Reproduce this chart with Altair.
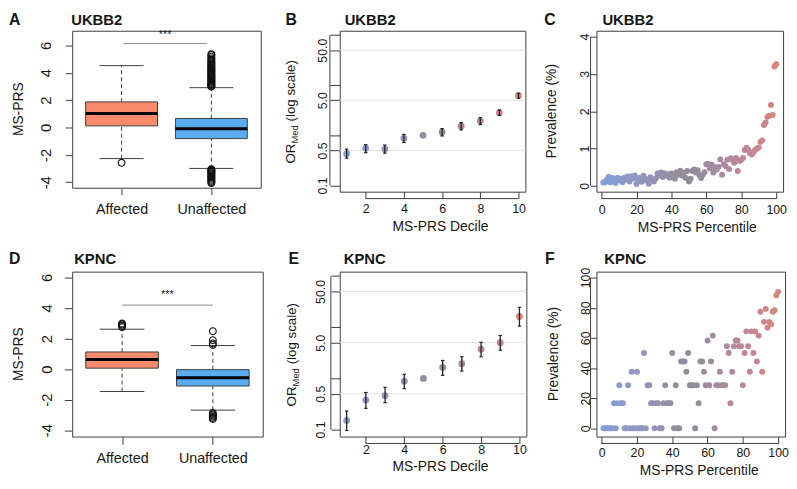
import altair as alt
import pandas as pd

FONT = "Liberation Sans"
INK = "#161616"
FRAME = "#3d3d3d"
GRID = "#e2e2e2"
GRAD = ["#7FA0DA", "#918D97", "#D4877A"]

# ---------------- A / D : box plots ----------------
box_pos = [1, 2]
box_names = ["Affected", "Unaffected"]
box_colors = ["#F88B6C", "#58ACEF"]

ukbb_q1 = [0.12, -0.81]
ukbb_median = [1.02, -0.09]
ukbb_q3 = [1.87, 0.66]
ukbb_whisker_lo = [-2.27, -2.99]
ukbb_whisker_hi = [4.52, 2.91]
ukbb_out_affected = [-2.58]
ukbb_out_unaffected = [2.98, 3.02, 3.08, 3.14, 3.2, 3.27, 3.33, 3.4, 3.46, 3.53, 3.6,
                       3.66, 3.73, 3.8, 3.86, 3.93, 4.0, 4.07, 4.14, 4.2, 4.28, 4.35,
                       4.42, 4.5, 4.58, 4.66, 4.75, 4.85, 4.95, 5.05, 5.17, 5.3, 5.36,
                       -3.04, -3.1, -3.16, -3.22, -3.28, -3.35, -3.42, -3.5, -3.57,
                       -3.65, -3.73, -3.82, -3.9, -3.98, -4.06]

kpnc_q1 = [0.06, -1.11]
kpnc_median = [0.63, -0.57]
kpnc_q3 = [1.12, -0.04]
kpnc_whisker_lo = [-1.47, -2.69]
kpnc_whisker_hi = [2.61, 1.54]
kpnc_out_affected = [2.75, 2.84, 2.92, 2.98]
kpnc_out_unaffected = [1.58, 1.68, 1.89, 2.48, -2.88, -2.96, -3.04, -3.12, -3.2, -3.27]

# ---------------- B / E : OR by decile ----------------
deciles = [1, 2, 3, 4, 5, 6, 7, 8, 9, 10]
ukbb_or = [0.43, 0.55, 0.53, 0.87, 1.0, 1.15, 1.52, 1.93, 2.82, 6.2]
ukbb_or_lo = [0.35, 0.45, 0.44, 0.72, 1.0, 0.97, 1.28, 1.64, 2.5, 5.5]
ukbb_or_hi = [0.53, 0.65, 0.64, 1.04, 1.0, 1.36, 1.79, 2.26, 3.2, 6.9]
kpnc_or = [0.15, 0.377, 0.46, 0.88, 1.0, 1.64, 1.93, 3.72, 5.0, 16.2]
kpnc_or_lo = [0.096, 0.26, 0.335, 0.63, 1.0, 1.15, 1.39, 2.64, 3.55, 10.5]
kpnc_or_hi = [0.23, 0.53, 0.67, 1.2, 1.0, 2.24, 2.64, 5.07, 6.9, 24.5]
or_ticks = [0.1, 0.5, 1, 5, 10, 50, 100]
or_grid = [0.5, 5, 50]

# ---------------- C / F : prevalence by percentile ----------------
percentiles = list(range(1, 101))
ukbb_prev = [0.09, 0.10, 0.16, 0.24, 0.10, 0.21, 0.13, 0.08, 0.22, 0.15,
             0.19, 0.10, 0.22, 0.17, 0.25, 0.12, 0.26, 0.20, 0.28, 0.05,
             0.14, 0.22, 0.11, 0.27, 0.19, 0.14, 0.06, 0.23, 0.16, 0.12,
             0.20, 0.33, 0.28, 0.36, 0.24, 0.34, 0.27, 0.31, 0.22, 0.33,
             0.26, 0.19, 0.37, 0.30, 0.41, 0.28, 0.35, 0.22, 0.40, 0.12,
             0.19, 0.40, 0.44, 0.36, 0.42, 0.29, 0.21, 0.30, 0.37, 0.58,
             0.59, 0.47, 0.57, 0.36, 0.50, 0.44, 0.51, 0.71, 0.30, 0.58,
             0.53, 0.70, 0.45, 0.74, 0.70, 0.62, 0.75, 0.40, 0.67, 0.70,
             0.75, 0.96, 1.02, 0.97, 0.88, 0.84, 0.90, 0.97, 1.00, 1.03,
             1.18, 1.22, 1.63, 1.70, 1.85, 1.88, 2.17, 1.90, 3.20, 3.26]
kpnc_prev = [0, 0, 0, 0, 0, 0, 16.7, 0, 16.7, 28.6,
             16.7, 16.7, 0, 0, 28.6, 0, 37.5, 0, 0, 37.5,
             0, 0, 0, 50, 0, 28.6, 28.6, 16.7, 16.7, 0,
             16.7, 16.7, 0, 0, 16.7, 28.6, 16.7, 16.7, 16.7, 50,
             0, 28.6, 0, 0, 44.4, 44.4, 44.4, 37.5, 50, 28.6,
             28.6, 28.6, 0, 28.6, 16.7, 44.4, 44.4, 37.5, 28.6, 58.3,
             28.6, 44.4, 61.5, 0, 28.6, 28.6, 37.5, 28.6, 28.6, 28.6,
             54.5, 50, 16.7, 37.5, 54.5, 58.3, 58.3, 54.5, 54.5, 28.6,
             50, 64.3, 54.5, 37.5, 64.3, 50, 64.3, 44.4, 61.5, 77.3,
             37.5, 70.6, 79.2, 66.7, 70.6, 69.0, 77.3, 78.3, 88.2, 90.5]


def txt(text, x, y, size, weight="normal", angle=0, align="left", baseline="alphabetic"):
    return alt.Chart(pd.DataFrame({"t": [text]})).mark_text(
        align=align, baseline=baseline, angle=angle, font=FONT,
        fontSize=size, fontWeight=weight, color=INK,
    ).encode(x=alt.value(x), y=alt.value(y), text="t:N")


def header(letter, letter_dx, title, title_dx, dy):
    return [txt(letter, letter_dx, dy, 16, "bold"), txt(title, title_dx, dy, 15, "bold")]


def box_panel(q1, med, q3, wlo, whi, out_aff, out_unaff, sig, star_y, ydom, w, h,
              tick, xpad, ypad, letter, title, title_dx, dy, ytitle_dx):
    xs = alt.Scale(domain=[0.45, 2.55], nice=False, zero=False)
    ys = alt.Scale(domain=ydom, nice=False, zero=False)
    xax = alt.Axis(values=box_pos, labelExpr="datum.value == 1 ? 'Affected' : 'Unaffected'",
                   tickSize=tick, labelPadding=xpad, labelFontSize=14.5, title=None)
    yax = alt.Axis(values=[-4, -2, 0, 2, 4, 6], labelExpr="'' + datum.value",
                   labelAngle=270, labelAlign="center", labelBaseline="alphabetic",
                   tickSize=tick, labelPadding=ypad, labelFontSize=15, title=None)

    def X(f):
        return alt.X(f, scale=xs, axis=xax)

    def Y(f):
        return alt.Y(f, scale=ys, axis=yax)

    df = pd.DataFrame({
        "g": box_pos,
        "x1": [p - 0.4 for p in box_pos], "x2": [p + 0.4 for p in box_pos],
        "c1": [p - 0.245 for p in box_pos], "c2": [p + 0.245 for p in box_pos],
        "q1": q1, "med": med, "q3": q3, "lo": wlo, "hi": whi, "fill": box_colors,
    })
    base = alt.Chart(df)
    w_hi = base.mark_rule(color=FRAME, strokeDash=[4, 3]).encode(
        x=X("g:Q"), y=Y("q3:Q"), y2="hi:Q")
    w_lo = base.mark_rule(color=FRAME, strokeDash=[4, 3]).encode(
        x=X("g:Q"), y=Y("lo:Q"), y2="q1:Q")
    cap_hi = base.mark_rule(color=FRAME).encode(x=X("c1:Q"), x2="c2:Q", y=Y("hi:Q"))
    cap_lo = base.mark_rule(color=FRAME).encode(x=X("c1:Q"), x2="c2:Q", y=Y("lo:Q"))
    rect = base.mark_rect(stroke=FRAME, strokeWidth=1).encode(
        x=X("x1:Q"), x2="x2:Q", y=Y("q1:Q"), y2="q3:Q",
        fill=alt.Fill("fill:N", scale=None))
    med_rule = base.mark_rule(color="#000000", strokeWidth=3).encode(
        x=X("x1:Q"), x2="x2:Q", y=Y("med:Q"))
    dfo = pd.DataFrame({
        "x": [1 for _ in out_aff] + [2 for _ in out_unaff],
        "y": list(out_aff) + list(out_unaff),
    })
    pts = alt.Chart(dfo).mark_point(shape="circle", filled=False, color="#111111",
                                    size=48, strokeWidth=1.1, opacity=1).encode(
        x=X("x:Q"), y=Y("y:Q"))
    sdf = pd.DataFrame({"a": [sig[0]], "b": [sig[1]], "y": [sig[2]],
                        "sx": [(sig[0] + sig[1]) / 2], "sy": [star_y]})
    sig_rule = alt.Chart(sdf).mark_rule(color="#8c8c8c").encode(
        x=X("a:Q"), x2="b:Q", y=Y("y:Q"))
    star = alt.Chart(sdf).mark_text(text="***", fontSize=11, font=FONT, color=INK,
                                    align="center", baseline="middle").encode(
        x=X("sx:Q"), y=Y("sy:Q"))
    layers = [w_hi, w_lo, cap_hi, cap_lo, rect, med_rule, pts, sig_rule, star]
    layers += header(letter, -64, title, title_dx, dy)
    layers.append(txt("MS-PRS", ytitle_dx, h / 2, 14, angle=270, align="center"))
    return alt.layer(*layers).properties(width=w, height=h)


def or_panel(vals, lo, hi, ydom, w, h, ytick, ypad, xtick, xpad, letter, letter_dx,
             title, title_dx, dy, ytitle_dx, xtitle_x, xtitle_dy):
    xs = alt.Scale(domain=[0.64, 10.36], nice=False, zero=False)
    ys = alt.Scale(type="log", domain=ydom, nice=False)
    xax = alt.Axis(values=[2, 4, 6, 8, 10], tickSize=xtick, labelPadding=xpad,
                   labelFontSize=12.5, title=None)
    yax = alt.Axis(values=or_ticks,
                   labelExpr="datum.value == 0.1 ? '0.1' : datum.value == 0.5 ? '0.5' : "
                             "datum.value == 5 ? '5.0' : datum.value == 50 ? '50.0' : ''",
                   labelAngle=270, labelAlign="center", labelBaseline="alphabetic",
                   tickSize=ytick, labelPadding=ypad, labelFontSize=12.5, title=None)

    def X(f):
        return alt.X(f, scale=xs, axis=xax)

    def Y(f):
        return alt.Y(f, scale=ys, axis=yax)

    df = pd.DataFrame({"d": deciles, "v": vals, "lo": lo, "hi": hi,
                       "c1": [d - 0.09 for d in deciles], "c2": [d + 0.09 for d in deciles]})
    base = alt.Chart(df)
    pts = base.mark_circle(size=48, opacity=1).encode(
        x=X("d:Q"), y=Y("v:Q"),
        color=alt.Color("d:Q", scale=alt.Scale(domain=[1, 5.5, 10], range=GRAD), legend=None))
    grid = alt.Chart(pd.DataFrame({"g": or_grid})).mark_rule(color=GRID).encode(
        y=Y("g:Q"))
    axl = alt.Chart(pd.DataFrame({"a": [or_ticks[0]], "b": [or_ticks[-1]]})).mark_rule(
        color=FRAME).encode(x=alt.value(-ytick), y=Y("a:Q"), y2="b:Q")
    axb = alt.Chart(pd.DataFrame({"a": [2], "b": [10]})).mark_rule(color=FRAME).encode(
        y=alt.value(h + xtick), x=X("a:Q"), x2="b:Q")
    bars = base.mark_rule(color="#222222", strokeWidth=1.3).encode(
        x=X("d:Q"), y=Y("lo:Q"), y2="hi:Q")
    cap_lo = base.transform_filter("datum.lo != datum.hi").mark_rule(
        color="#222222", strokeWidth=1.2).encode(x=X("c1:Q"), x2="c2:Q", y=Y("lo:Q"))
    cap_hi = base.transform_filter("datum.lo != datum.hi").mark_rule(
        color="#222222", strokeWidth=1.2).encode(x=X("c1:Q"), x2="c2:Q", y=Y("hi:Q"))
    layers = [grid, axl, axb, pts, bars, cap_lo, cap_hi]
    layers += header(letter, letter_dx, title, title_dx, dy)
    y0 = h / 2 + 53
    layers.append(txt("OR", ytitle_dx, y0, 13.5, angle=270))
    layers.append(txt("Med", ytitle_dx + 3, y0 - 20.3, 9.5, angle=270))
    layers.append(txt("(log scale)", ytitle_dx, y0 - 20.3 - 18.5 - 3.8, 13.5, angle=270))
    layers.append(txt("MS-PRS Decile", xtitle_x, h + xtitle_dy, 14, align="center"))
    return alt.layer(*layers).properties(width=w, height=h)


def prev_panel(vals, ydom, yvals, w, h, ytick, ypad, xtick, xpad, letter, letter_dx,
               title, title_dx, dy, ytitle_dx, xtitle_x, xtitle_dy):
    xs = alt.Scale(domain=[-2.96, 103.96], nice=False, zero=False)
    ys = alt.Scale(domain=ydom, nice=False, zero=False)
    xvals = [0, 20, 40, 60, 80, 100]
    xax = alt.Axis(values=xvals, tickSize=xtick, labelPadding=xpad,
                   labelFontSize=12.5, title=None)
    yax = alt.Axis(values=yvals, labelAngle=270, labelAlign="center",
                   labelBaseline="alphabetic", tickSize=ytick, labelPadding=ypad,
                   labelFontSize=12.5, title=None)

    def X(f):
        return alt.X(f, scale=xs, axis=xax)

    def Y(f):
        return alt.Y(f, scale=ys, axis=yax)

    df = pd.DataFrame({"p": percentiles, "v": vals})
    pts = alt.Chart(df).mark_circle(size=36, opacity=1).encode(
        x=X("p:Q"), y=Y("v:Q"),
        color=alt.Color("p:Q", scale=alt.Scale(domain=[1, 50.5, 100], range=GRAD), legend=None))
    axl = alt.Chart(pd.DataFrame({"a": [yvals[0]], "b": [yvals[-1]]})).mark_rule(
        color=FRAME).encode(x=alt.value(-ytick), y=Y("a:Q"), y2="b:Q")
    axb = alt.Chart(pd.DataFrame({"a": [xvals[0]], "b": [xvals[-1]]})).mark_rule(
        color=FRAME).encode(y=alt.value(h + xtick), x=X("a:Q"), x2="b:Q")
    layers = [pts, axl, axb]
    layers += header(letter, letter_dx, title, title_dx, dy)
    layers.append(txt("Prevalence (%)", ytitle_dx, h / 2, 14, angle=270, align="center"))
    layers.append(txt("MS-PRS Percentile", xtitle_x, h + xtitle_dy, 14, align="center"))
    return alt.layer(*layers).properties(width=w, height=h)


def spacer(w):
    return alt.Chart(pd.DataFrame({"z": [0]})).mark_point(opacity=0).encode(
        x=alt.value(0), y=alt.value(0)
    ).properties(width=w, height=10, view=alt.ViewBackground(strokeOpacity=0))


pA = box_panel(ukbb_q1, ukbb_median, ukbb_q3, ukbb_whisker_lo, ukbb_whisker_hi,
               ukbb_out_affected, ukbb_out_unaffected, (1.02, 1.95, 6.14), 6.76,
               [-4.4, 7.07], 191, 159, 7, 8, 15, "A", "UKBB2", -1, -6, -50)
pB = or_panel(ukbb_or, ukbb_or_lo, ukbb_or_hi, [0.075, 122], 188, 163,
              10, 3, 7, 4, "B", -55, "UKBB2", 5, -6, -45, 102, 40)
pC = prev_panel(ukbb_prev, [-0.155, 4.157], [0, 1, 2, 3, 4], 189, 163,
                6, 2, 7, 5, "C", -53, "UKBB2", 6, -6, -41, 102, 41)

pD = box_panel(kpnc_q1, kpnc_median, kpnc_q3, kpnc_whisker_lo, kpnc_whisker_hi,
               kpnc_out_affected, kpnc_out_unaffected, (1.0, 2.0, 4.19), 4.85,
               [-4.42, 6.38], 193, 167, 8, 7, 13, "D", "KPNC", 2, -8, -50)
pE = or_panel(kpnc_or, kpnc_or_lo, kpnc_or_hi, [0.073, 122], 189, 167,
              9, 6, 7, 0, "E", -52, "KPNC", 4, -8, -44, 102, 35)
pF = prev_panel(kpnc_prev, [-5.45, 103.9], [0, 20, 40, 60, 80, 100], 191, 167,
                6, 1, 7, 3, "F", -52, "KPNC", 8, -8, -39, 104, 39)

chart = alt.concat(
    pA, spacer(78), pB, spacer(71), pC,
    pD, spacer(78), pE, spacer(71), pF,
    columns=5, spacing=alt.RowColnumber(row=81, column=0), bounds="flush",
).resolve_scale(
    color="independent"
).properties(
    padding=0, background="white"
).configure_view(
    stroke=FRAME, strokeWidth=1
).configure_axis(
    domain=False, grid=False, labelFont=FONT, labelColor=INK, tickColor=FRAME,
    tickWidth=1, labelOverlap=False, labelFlush=False, labelBound=False
)

chart.save("out.html", embed_options={"renderer": "svg", "actions": False})
